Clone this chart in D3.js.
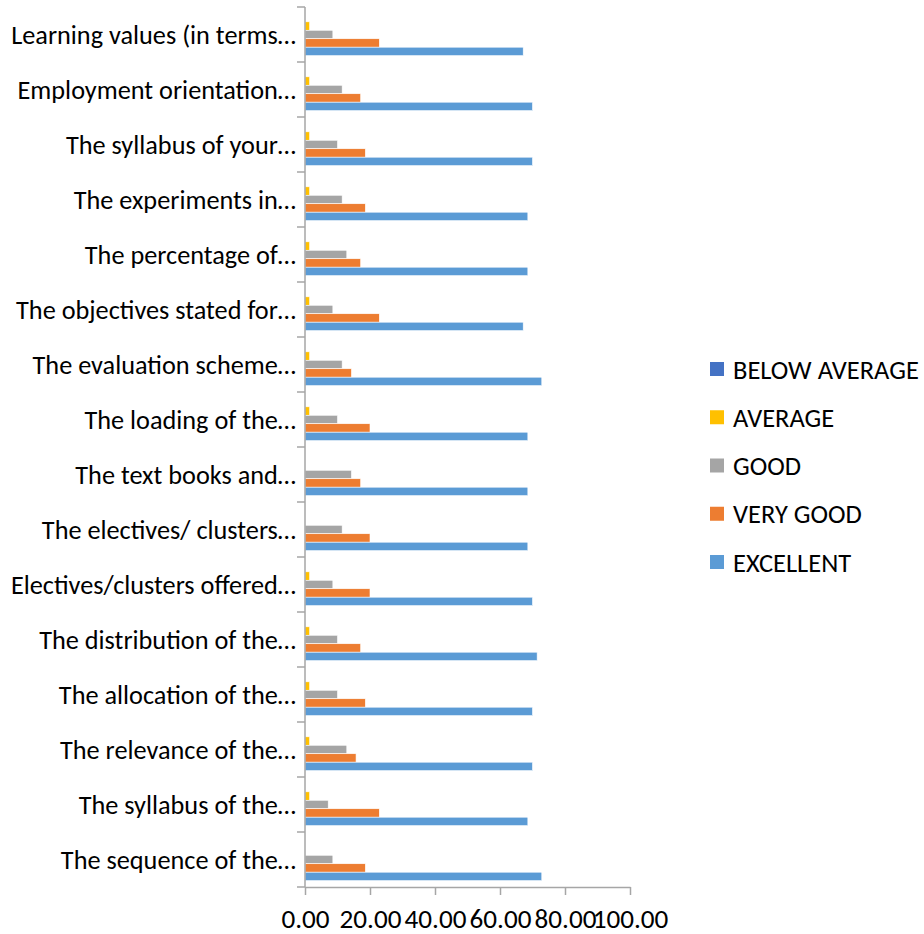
<!DOCTYPE html>
<html>
<head>
<meta charset="utf-8">
<script src="https://cdn.jsdelivr.net/npm/d3@7"></script>
<style>
  html, body { margin: 0; padding: 0; background: #fff; }
  svg { display: block; }
</style>
</head>
<body>
<svg id="chart" width="924" height="934"></svg>
<script>
// ---- data (top to bottom as shown) ----
const categories = [
  "Learning values (in terms…",
  "Employment orientation…",
  "The syllabus of your…",
  "The experiments in…",
  "The percentage of…",
  "The objectives stated for…",
  "The evaluation scheme…",
  "The loading of the…",
  "The text books and…",
  "The electives/ clusters…",
  "Electives/clusters offered…",
  "The distribution of the…",
  "The allocation of the…",
  "The relevance of the…",
  "The syllabus of the…",
  "The sequence of the…"
];
const seriesNames = ["BELOW AVERAGE", "AVERAGE", "GOOD", "VERY GOOD", "EXCELLENT"];
const belowAverage = [0,0,0,0,0,0,0,0,0,0,0,0,0,0,0,0];
const average   = [1.43,1.43,1.43,1.43,1.43,1.43,1.43,1.43,0,0,1.43,1.43,1.43,1.43,1.43,0];
const good      = [8.57,11.43,10.00,11.43,12.86,8.57,11.43,10.00,14.29,11.43,8.57,10.00,10.00,12.86,7.14,8.57];
const veryGood  = [22.86,17.14,18.57,18.57,17.14,22.86,14.29,20.00,17.14,20.00,20.00,17.14,18.57,15.71,22.86,18.57];
const excellent = [67.14,70.00,70.00,68.57,68.57,67.14,72.86,68.57,68.57,68.57,70.00,71.43,70.00,70.00,68.57,72.86];
const xTicks = [0, 20, 40, 60, 80, 100];
const colors = ["#4472C4", "#FFC000", "#A5A5A5", "#ED7D31", "#5B9BD5"];

const seriesValues = [belowAverage, average, good, veryGood, excellent];
const FONT = "Carlito, Lato, 'Open Sans', sans-serif";

const svg = d3.select("#chart");

function fitSize(text, target) {
  const t = svg.append("text").attr("font-family", FONT).attr("font-size", 20).text(text);
  const w = t.node().getComputedTextLength();
  t.remove();
  return 20 * target / w;
}

const catFont = fitSize(categories[0], 285);
const legFont = fitSize("BELOW AVERAGE", 186);
const tickFont = fitSize("20.00", 62);

// scales
const x = d3.scaleLinear().domain([0, 100]).range([305, 630]);
const pi = 1.5 / 6.5;
const y = d3.scaleBand().domain(categories).range([7, 887]).paddingInner(pi).paddingOuter(pi / 2);
const ySub = d3.scaleBand().domain(seriesNames).range([0, y.bandwidth()]);

// bars
const groups = svg.append("g").selectAll("g")
  .data(categories)
  .join("g")
  .attr("transform", d => `translate(0,${y(d)})`);

groups.selectAll("rect")
  .data((c, i) => seriesNames.map((s, k) => ({ s, k, v: seriesValues[k][i] })))
  .join("rect")
  .attr("x", x(0))
  .attr("y", d => ySub(d.s))
  .attr("width", d => x(d.v) - x(0))
  .attr("height", ySub.bandwidth())
  .attr("fill", d => colors[d.k])
  .attr("stroke", "#fff")
  .attr("stroke-width", 0.6)
  .attr("display", d => d.v > 0 ? null : "none");

const axisColor = "#A6A6A6";

// category axis
const yAxis = svg.append("g")
  .attr("transform", `translate(${x(0)},0)`)
  .call(d3.axisLeft(y).tickSize(0).tickPadding(9));
yAxis.select(".domain").remove();
yAxis.selectAll("text")
  .attr("font-family", FONT)
  .attr("font-size", catFont)
  .attr("fill", "#000")
  .attr("dy", "0.36em");

// category axis line + boundary ticks
const bounds = d3.range(categories.length + 1).map(i => y.range()[0] + i * y.step());
svg.append("line")
  .attr("x1", x(0)).attr("x2", x(0))
  .attr("y1", y.range()[0]).attr("y2", y.range()[1])
  .attr("stroke", axisColor).attr("stroke-width", 1.5);
svg.append("g").selectAll("line")
  .data(bounds)
  .join("line")
  .attr("x1", x(0) - 8).attr("x2", x(0))
  .attr("y1", d => d).attr("y2", d => d)
  .attr("stroke", axisColor).attr("stroke-width", 1.5);

// value axis
const xAxis = svg.append("g")
  .attr("transform", `translate(0,${y.range()[1]})`)
  .call(d3.axisBottom(x).tickValues(xTicks).tickFormat(d3.format(".2f")).tickSize(8).tickSizeOuter(0).tickPadding(14));
xAxis.select(".domain").attr("stroke", axisColor).attr("stroke-width", 1.5);
xAxis.selectAll(".tick line").attr("stroke", axisColor).attr("stroke-width", 1.5);
xAxis.selectAll("text")
  .attr("font-family", FONT)
  .attr("font-size", tickFont)
  .attr("fill", "#000");

// legend
const legend = svg.append("g").selectAll("g")
  .data(seriesNames)
  .join("g")
  .attr("transform", (d, i) => `translate(710,${369 + i * 48.25})`);
legend.append("rect")
  .attr("x", 0).attr("y", -7).attr("width", 14).attr("height", 14)
  .attr("fill", (d, i) => colors[i]);
legend.append("text")
  .attr("x", 23).attr("y", 0).attr("dy", "0.36em")
  .attr("font-family", FONT)
  .attr("font-size", legFont)
  .attr("fill", "#000")
  .text(d => d);
</script>
</body>
</html>
